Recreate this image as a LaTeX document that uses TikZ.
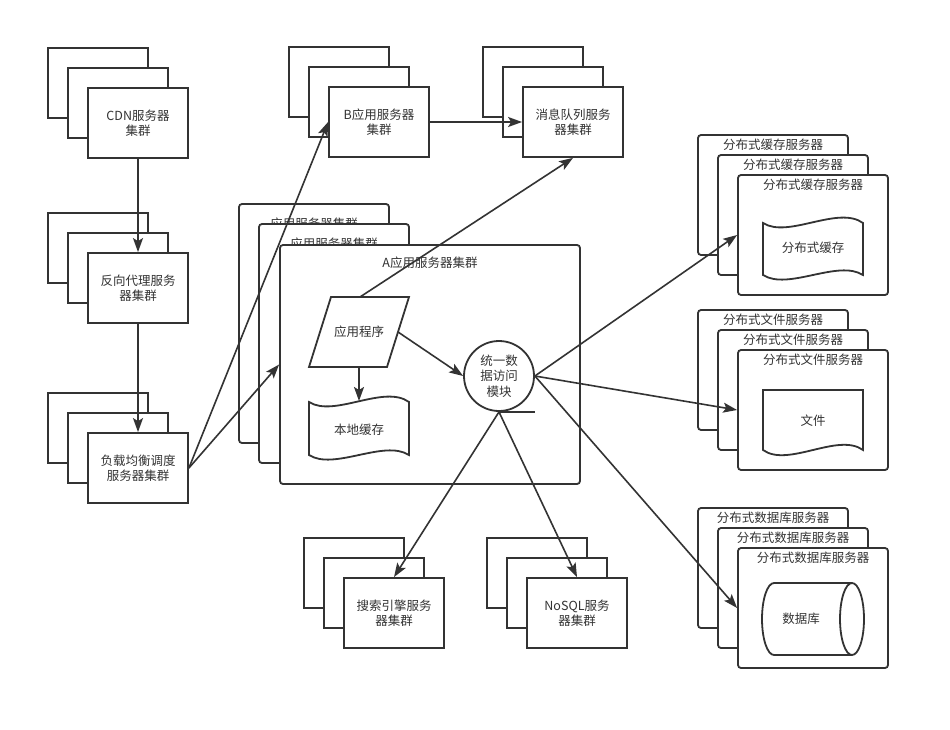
\documentclass[tikz,border=0pt]{standalone}
\usepackage{fontspec}
\setmainfont{Noto Sans CJK SC}
\usetikzlibrary{arrows.meta,calc}
\definecolor{ink}{HTML}{333333}
\newcommand\fs{\fontsize{12.5}{15}\selectfont}
\newcommand\mystack[4]{%
  \node[box] (#1-3) at (#2-40,#3-40) {};
  \node[box] (#1-2) at (#2-20,#3-20) {};
  \node[box] (#1) at (#2,#3) {#4};
}
\newcommand\mycluster[4]{%
  \node[rbox, minimum width=150pt, minimum height=120pt] (#1-3) at (#2-40,#3-40) {};
  \node[lbl] at (#2-40,#3-90.5) {#4};
  \node[rbox, minimum width=150pt, minimum height=120pt] (#1-2) at (#2-20,#3-20) {};
  \node[lbl] at (#2-20,#3-70.5) {#4};
  \node[rbox, minimum width=150pt, minimum height=120pt] (#1) at (#2,#3) {};
  \node[lbl] at (#2,#3-50.5) {#4};
}
\begin{document}
\begin{tikzpicture}[x=1pt,y=-1pt,
  every node/.style={text=ink, font=\fs},
  box/.style={draw=ink, fill=white, line width=1.8pt, minimum width=100pt, minimum height=70pt, inner sep=0pt, align=center},
  rbox/.style={draw=ink, fill=white, line width=1.8pt, rounded corners=3pt, inner sep=0pt},
  lbl/.style={inner sep=0pt},
  shp/.style={draw=ink, fill=white, line width=1.8pt},
  conn/.style={draw=ink, line width=1.6pt, -{Stealth[length=14pt,width=10pt,inset=3pt]}}
]
\useasboundingbox (0,0) rectangle (950,730);
\fill[white] (0,0) rectangle (950,730);

% left and top stacks
\mystack{cdn}{138}{123}{CDN服务器\\集群}
\mystack{proxy}{138}{288}{反向代理服务\\器集群}
\mystack{lb}{138}{468}{负载均衡调度\\服务器集群}
\mystack{bapp}{379}{122}{B应用服务器\\集群}
\mystack{mq}{573}{122}{消息队列服务\\器集群}
\mystack{search}{394}{613}{搜索引擎服务\\器集群}
\mystack{nosql}{577}{613}{NoSQL服务\\器集群}

% application server cluster
\node[rbox, minimum width=150pt, minimum height=239pt] (ac3) at (314,323.5) {};
\node[lbl] at (314,224) {应用服务器集群};
\node[rbox, minimum width=150pt, minimum height=239pt] (ac2) at (334,343.5) {};
\node[lbl] at (334,244) {应用服务器集群};
\node[rbox, minimum width=300pt, minimum height=239pt] (ac) at (430,364.5) {};
\node[lbl] at (430,263) {A应用服务器集群};

% application program (parallelogram)
\draw[shp] (331,297) -- (409,297) -- (387,367) -- (309,367) -- cycle;
\node (app) at (359,332) {应用程序};
\coordinate (appT) at (360,297);
\coordinate (appB) at (359,367);
\coordinate (appR) at (398,332);

% local cache (tape)
\draw[shp] (309,402) .. controls (334,418) and (384,384) .. (409,402) -- (409,455)
  .. controls (384,439) and (334,471) .. (309,455) -- cycle;
\node (lc) at (359,430) {本地缓存};
\coordinate (lcT) at (359,401);

% unified data access module
\node[draw=ink, fill=white, circle, minimum size=70pt, inner sep=0pt, line width=1.8pt, align=center,
  font=\fontsize{12.5}{15.5}\selectfont] (uda) at (499,376) {统一数\\据访问\\模块};
\draw[draw=ink, line width=1.8pt] (uda.south) -- ++(36,0);

% right clusters
\mycluster{cache}{813}{235}{分布式缓存服务器}
\mycluster{file}{813}{410}{分布式文件服务器}
\mycluster{db}{813}{608}{分布式数据库服务器}

% distributed cache (tape)
\draw[shp] (763,223) .. controls (788,239) and (838,205) .. (863,223) -- (863,275)
  .. controls (838,259) and (788,291) .. (763,275) -- cycle;
\node (dc) at (813,248) {分布式缓存};

% file (document)
\draw[shp] (763,390) -- (863,390) -- (863,450)
  .. controls (838,432) and (788,468) .. (763,450) -- cycle;
\node (fl) at (813,421) {文件};

% database (horizontal cylinder)
\draw[shp] (852,583) -- (774,583) arc[start angle=90, end angle=270, x radius=12pt, y radius=36pt] -- (852,655);
\draw[shp] (852,619) ellipse[x radius=12pt, y radius=36pt];
\node (dbs) at (801,619) {数据库};

% connectors
\draw[conn] (cdn.south) -- (proxy.north);
\draw[conn] (proxy.south) -- (lb.north);
\draw[conn] (lb.east) -- (bapp.west);
\draw[conn] (lb.east) -- (ac.west);
\draw[conn] (bapp.east) -- (mq.west);
\draw[conn] (appT) -- (mq.south);
\draw[conn] (appB) -- (lcT);
\draw[conn] (appR) -- (uda.west);
\draw[conn] (uda.east) -- (cache.west);
\draw[conn] (uda.east) -- (file.west);
\draw[conn] (uda.east) -- (db.west);
\draw[conn] (uda.south) -- (search.north);
\draw[conn] (uda.south) -- (nosql.north);
\end{tikzpicture}
\end{document}
